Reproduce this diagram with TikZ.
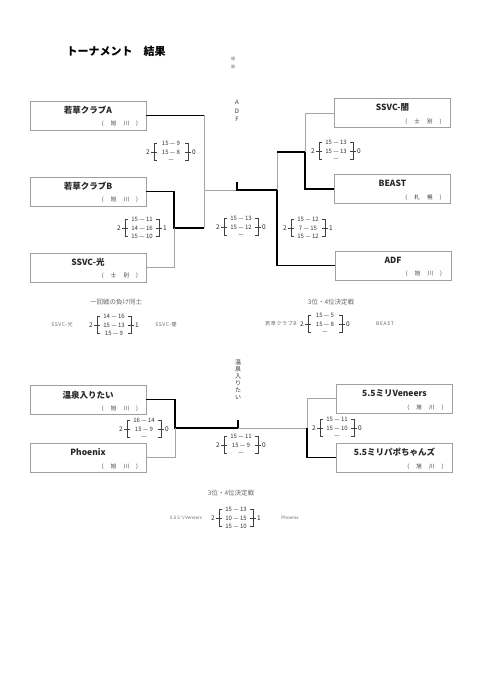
\documentclass[tikz,border=0pt]{standalone}
\usepackage{fontspec}
\setmainfont{Noto Sans CJK JP}
\newfontfamily\spacedfont[LetterSpace=12]{Noto Sans CJK JP}
\usetikzlibrary{calc}

% score bracket: centre x, centre y, left, row 1, row 2, row 3, right
\newcommand{\scorebracket}[7]{%
  \begin{scope}[shift={(#1,#2)}]
    \draw[bracket] (-14,-8.5) -- (-17,-8.5) -- (-17,8.5) -- (-14,8.5) (-20,0) -- (-14,0);
    \draw[bracket] (14,-8.5) -- (17,-8.5) -- (17,8.5) -- (14,8.5) (20,0) -- (14,0);
    \node[scoretext] at (0,-8.5) {#4};
    \node[scoretext] at (0,0) {#5};
    \node[scoretext] at (0,8.5) {#6};
    \node[scorenum] at (-23,0) {#3};
    \node[scorenum] at (23,0) {#7};
  \end{scope}}

\begin{document}
\begin{tikzpicture}[x=1pt,y=1pt,yscale=-1,
  teambox/.style={draw=gray!75,line width=0.5pt,minimum width=116pt,minimum height=29pt,inner sep=0pt},
  teamname/.style={font=\fontsize{8.5}{10}\selectfont\bfseries,text=black!85,inner sep=0pt},
  city/.style={font=\fontsize{5.5}{6}\selectfont,text=black!80,inner sep=0pt},
  win/.style={line width=1.4pt,black},
  lose/.style={line width=0.5pt,gray!70},
  bracket/.style={line width=0.45pt,black!75},
  scoretext/.style={font=\fontsize{6}{7}\selectfont,text=black!80,inner sep=0pt},
  scorenum/.style={font=\fontsize{6.5}{7}\selectfont,text=black!85,inner sep=0pt},
  note/.style={font=\fontsize{6.5}{7}\selectfont,text=black!60,inner sep=0pt},
  vlabel/.style={align=center,inner sep=0pt}]
\useasboundingbox (0,0) rectangle (480,679);

% Title
\node[font=\fontsize{11}{13}\selectfont\bfseries,inner sep=0pt] (title) at (116,51) {トーナメント　結果};
\node[vlabel,font=\fontsize{4}{8}\selectfont,text=black!55] (yusho) at (233,63) {優\\勝};
\node[vlabel,font=\fontsize{6}{8.5}\selectfont,text=black!80] (winner) at (237,111) {A\\D\\F};

% Upper bracket boxes
\node[teambox] (teamA) at (88,115.5) {};
\node[teambox] (teamB) at (88,191.5) {};
\node[teambox] (hikari) at (88,267.5) {};
\node[teambox] (yami) at (392.5,113) {};
\node[teambox] (beast) at (392.5,189) {};
\node[teambox] (adf) at (393,265.5) {};

\node[teamname] at ([yshift=-5.5pt]teamA.center) {若草クラブA};
\node[city] at ([xshift=32pt,yshift=8.5pt]teamA.center) {(\hspace{1.3em}旭\hspace{1.3em}川\hspace{1.3em})};
\node[teamname] at ([yshift=-5.5pt]teamB.center) {若草クラブB};
\node[city] at ([xshift=32pt,yshift=8.5pt]teamB.center) {(\hspace{1.3em}旭\hspace{1.3em}川\hspace{1.3em})};
\node[teamname] at ([yshift=-5.5pt]hikari.center) {SSVC-光};
\node[city] at ([xshift=32pt,yshift=8.5pt]hikari.center) {(\hspace{1.3em}士\hspace{1.3em}別\hspace{1.3em})};
\node[teamname] at ([yshift=-5.5pt]yami.center) {SSVC-闇};
\node[city] at ([xshift=31pt,yshift=8.5pt]yami.center) {(\hspace{1.3em}士\hspace{1.3em}別\hspace{1.3em})};
\node[teamname] at ([yshift=-5.5pt]beast.center) {BEAST};
\node[city] at ([xshift=31pt,yshift=8.5pt]beast.center) {(\hspace{1.3em}札\hspace{1.3em}幌\hspace{1.3em})};
\node[teamname] at ([yshift=-5.5pt]adf.center) {ADF};
\node[city] at ([xshift=31pt,yshift=8.5pt]adf.center) {(\hspace{1.3em}旭\hspace{1.3em}川\hspace{1.3em})};

% Upper bracket lines
\coordinate (jL) at (204,228);
\coordinate (jB) at (174,228);
\coordinate (champ) at (237,190);
\coordinate (champtop) at (237,182);
\coordinate (jR) at (277,152);
\coordinate (jS) at (305,152);

\draw[win] (teamA.east) -- (teamA.east -| jL);
\draw[lose] (teamA.east -| jL) -- (jL);
\draw[win] (teamB.east) -| (jB) -- (jL);
\draw[lose] (hikari.east) -| (jB);
\draw[lose] (jL |- champ) -- (champ);
\draw[win] (champtop) -- (champ) -- (jR |- champ);
\draw[win] (adf.west) -| (jR |- champ);
\draw[lose] (jR |- champ) -- (jR);
\draw[win] (jR) -- (jS) |- (beast.west);
\draw[lose] (jS) |- (yami.west);

% Upper scores
\scorebracket{171}{152}{2}{15 — 9}{15 — 8}{—}{0}
\scorebracket{142}{228}{2}{15 — 11}{14 — 16}{15 — 10}{1}
\scorebracket{241}{227}{2}{15 — 13}{15 — 12}{—}{0}
\scorebracket{336}{151}{2}{15 — 13}{15 — 13}{—}{0}
\scorebracket{308}{228}{2}{15 — 12}{7 — 15}{15 — 12}{1}

% Extra matches
\node[note] (loser) at (116,302) {一回戦の負け同士};
\node[note] (third1) at (331,302) {3位・4位決定戦};
\node[note,font=\spacedfont\fontsize{5}{6}\selectfont] (lhikari) at (62,325) {SSVC-光};
\node[note,font=\spacedfont\fontsize{5}{6}\selectfont] (lyami) at (166,325) {SSVC-闇};
\node[note,font=\spacedfont\fontsize{5}{6}\selectfont] (lteamB) at (281,324) {若草クラブB};
\node[note,font=\spacedfont\fontsize{5}{6}\selectfont] (lbeast) at (385,324) {BEAST};
\scorebracket{114}{325}{2}{14 — 16}{15 — 13}{15 — 9}{1}
\scorebracket{325}{324}{2}{15 — 5}{15 — 8}{—}{0}

% Lower bracket
\node[vlabel,font=\fontsize{6}{7}\selectfont,text=black!80] (winner2) at (238,380) {温\\泉\\入\\り\\た\\い};

\node[teambox] (onsen) at (88,399.5) {};
\node[teambox] (phoenix) at (88,457.5) {};
\node[teambox] (veneers) at (394.5,398.5) {};
\node[teambox] (papo) at (394.5,457.5) {};

\node[teamname] at ([yshift=-4.5pt]onsen.center) {温泉入りたい};
\node[city] at ([xshift=32pt,yshift=9.5pt]onsen.center) {(\hspace{1.3em}旭\hspace{1.3em}川\hspace{1.3em})};
\node[teamname] at ([yshift=-5pt]phoenix.center) {Phoenix};
\node[city] at ([xshift=32pt,yshift=9.5pt]phoenix.center) {(\hspace{1.3em}旭\hspace{1.3em}川\hspace{1.3em})};
\node[teamname] at ([yshift=-5pt]veneers.center) {5.5ミリVeneers};
\node[city] at ([xshift=31pt,yshift=9.5pt]veneers.center) {(\hspace{1.3em}旭\hspace{1.3em}川\hspace{1.3em})};
\node[teamname] at ([yshift=-5pt]papo.center) {5.5ミリパポちゃんズ};
\node[city] at ([xshift=31pt,yshift=9.5pt]papo.center) {(\hspace{1.3em}旭\hspace{1.3em}川\hspace{1.3em})};

\coordinate (kL) at (175,428);
\coordinate (champ2) at (238,428);
\coordinate (champ2top) at (238,420);
\coordinate (kR) at (307,428);

\draw[win] (onsen.east) -| (kL) -- (champ2) -- (champ2top);
\draw[lose] (phoenix.east) -| (kL);
\draw[lose] (champ2) -- (kR);
\draw[lose] (veneers.west) -| (kR);
\draw[win] (kR) |- (papo.west);

\scorebracket{144}{429}{2}{16 — 14}{15 — 9}{—}{0}
\scorebracket{337}{428}{2}{15 — 11}{15 — 10}{—}{0}
\scorebracket{241}{445}{2}{15 — 11}{15 — 9}{—}{0}

% Third place, lower
\node[note] (third2) at (231,493) {3位・4位決定戦};
\node[note,font=\fontsize{4.5}{6}\selectfont] (lveneers) at (186,518) {5.5ミリVeneers};
\node[note,font=\fontsize{4.5}{6}\selectfont] (lphoenix) at (290,518) {Phoenix};
\scorebracket{236}{518}{2}{15 — 13}{10 — 15}{15 — 10}{1}

\end{tikzpicture}
\end{document}
